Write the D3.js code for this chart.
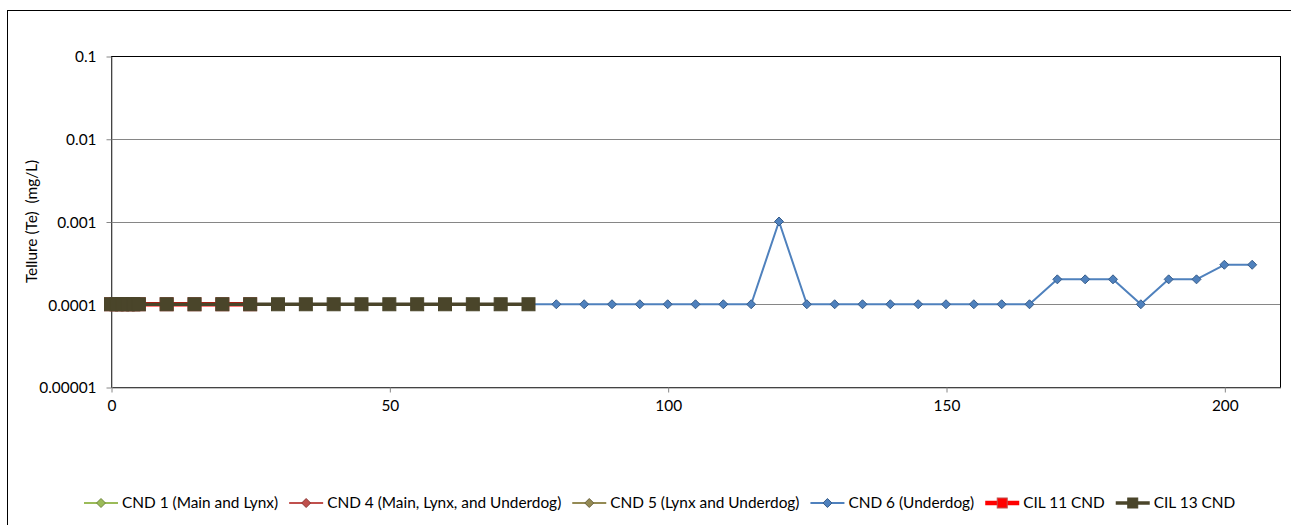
<!DOCTYPE html>
<html><head><meta charset="utf-8">
<script src="https://cdn.jsdelivr.net/npm/d3@7"></script>
<style>body{margin:0;background:#fff}svg{display:block;font-family:Lato,"Open Sans",sans-serif}</style>
</head><body><svg id="c" width="1291" height="525"></svg>
<script>
// ---- data ----
const seriesNames = ["CND 1 (Main and Lynx)", "CND 4 (Main, Lynx, and Underdog)", "CND 5 (Lynx and Underdog)", "CND 6 (Underdog)", "CIL 11 CND", "CIL 13 CND"];
const cnd1X = [0, 1, 2, 3, 4, 5];
const cnd1Y = [0.0001, 0.0001, 0.0001, 0.0001, 0.0001, 0.0001];
const cnd4X = [0, 5, 10, 15, 20, 25];
const cnd4Y = [0.0001, 0.0001, 0.0001, 0.0001, 0.0001, 0.0001];
const cnd5X = [0, 5, 10, 15, 20, 25];
const cnd5Y = [0.0001, 0.0001, 0.0001, 0.0001, 0.0001, 0.0001];
const cnd6X = [0, 5, 10, 15, 20, 25, 30, 35, 40, 45, 50, 55, 60, 65, 70, 75, 80, 85, 90, 95, 100, 105, 110, 115, 120, 125, 130, 135, 140, 145, 150, 155, 160, 165, 170, 175, 180, 185, 190, 195, 200, 205];
const cnd6Y = [0.0001, 0.0001, 0.0001, 0.0001, 0.0001, 0.0001, 0.0001, 0.0001, 0.0001, 0.0001, 0.0001, 0.0001, 0.0001, 0.0001, 0.0001, 0.0001, 0.0001, 0.0001, 0.0001, 0.0001, 0.0001, 0.0001, 0.0001, 0.0001, 0.001, 0.0001, 0.0001, 0.0001, 0.0001, 0.0001, 0.0001, 0.0001, 0.0001, 0.0001, 0.0002, 0.0002, 0.0002, 0.0001, 0.0002, 0.0002, 0.0003, 0.0003];
const cil11X = [0, 1, 2, 3, 4, 5, 10, 15, 20, 25];
const cil11Y = [0.0001, 0.0001, 0.0001, 0.0001, 0.0001, 0.0001, 0.0001, 0.0001, 0.0001, 0.0001];
const cil13X = [0, 1, 2, 3, 4, 5, 10, 15, 20, 25, 30, 35, 40, 45, 50, 55, 60, 65, 70, 75];
const cil13Y = [0.0001, 0.0001, 0.0001, 0.0001, 0.0001, 0.0001, 0.0001, 0.0001, 0.0001, 0.0001, 0.0001, 0.0001, 0.0001, 0.0001, 0.0001, 0.0001, 0.0001, 0.0001, 0.0001, 0.0001];
const yTicks = [0.00001, 0.0001, 0.001, 0.01, 0.1];
const yTickLabels = ["0.00001", "0.0001", "0.001", "0.01", "0.1"];
const xTicks = [0, 50, 100, 150, 200];
const yLabel = "Tellure (Te)  (mg/L)";

// ---- styles ----
const FS = 15.4;
const styles = [
  {line:"#9BBB59", lw:2, shape:"diamond", size:8, fill:"#9BBB59", stroke:"#71893F"},
  {line:"#C0504D", lw:2, shape:"diamond", size:8, fill:"#C0504D", stroke:"#8C3836"},
  {line:"#948A54", lw:2, shape:"diamond", size:8, fill:"#948A54", stroke:"#6B6440"},
  {line:"#4F81BD", lw:2, shape:"diamond", size:8, fill:"#4F81BD", stroke:"#385D8A"},
  {line:"#FF0000", lw:4.5, shape:"square", size:13, fill:"#FF0000", stroke:"#C0504D"},
  {line:"#4A452A", lw:3.5, shape:"square", size:13, fill:"#4A452A", stroke:"#4A452A"}
];
const seriesX = [cnd1X, cnd4X, cnd5X, cnd6X, cil11X, cil13X];
const seriesY = [cnd1Y, cnd4Y, cnd5Y, cnd6Y, cil11Y, cil13Y];

const svg = d3.select("#c");
svg.append("rect").attr("x",7.5).attr("y",10.5).attr("width",1300).attr("height",530)
  .attr("fill","#fff").attr("stroke","#000").attr("stroke-width",1);

const L=111, R=1280, T=56, B=387;
const x = d3.scaleLinear().domain([0,210]).range([L,R]);
const y = d3.scaleLog().domain([0.00001,0.1]).range([B,T]);

// gridlines
svg.append("g").selectAll("line").data(yTicks.slice(1)).join("line")
  .attr("x1",L).attr("x2",R).attr("y1",d=>Math.round(y(d))+0.5).attr("y2",d=>Math.round(y(d))+0.5)
  .attr("stroke","#868686").attr("stroke-width",1);
// plot border
svg.append("rect").attr("x",L+0.5).attr("y",T+0.5).attr("width",R-L).attr("height",B-T)
  .attr("fill","none").attr("stroke","#000").attr("stroke-width",1);

// axes
const yAxis = d3.axisLeft(y).tickValues(yTicks).tickFormat((d,i)=>yTickLabels[i]).tickSize(5).tickSizeOuter(0).tickPadding(10);
const gy = svg.append("g").attr("transform",`translate(${L+0.5},0.5)`).call(yAxis);
const xAxis = d3.axisBottom(x).tickValues(xTicks).tickFormat(d3.format("d")).tickSize(5).tickSizeOuter(0).tickPadding(8);
const gx = svg.append("g").attr("transform",`translate(0.5,${B+0.5})`).call(xAxis);
[gx,gy].forEach(g=>{
  g.select(".domain").attr("stroke","#868686");
  g.selectAll(".tick line").attr("stroke","#868686");
  g.selectAll("text").attr("font-family","Lato, 'Open Sans', sans-serif").attr("font-size",FS).attr("fill","#000");
});
gy.selectAll("text").attr("dy","0.35em");

// y label
svg.append("text").attr("transform",`translate(37,${(T+B)/2}) rotate(-90)`)
  .attr("text-anchor","middle").attr("font-size",FS).attr("fill","#000")
  .style("white-space","pre").text(yLabel);

// symbols
function marker(g, s, cx, cy){
  if(s.shape==="diamond"){
    const h=s.size/2+0.5;
    g.append("path").attr("d",`M${cx},${cy-h}L${cx+h},${cy}L${cx},${cy+h}L${cx-h},${cy}Z`)
      .attr("fill",s.fill).attr("stroke",s.stroke).attr("stroke-width",1);
  } else {
    const h=s.size/2;
    g.append("rect").attr("x",cx-h).attr("y",cy-h).attr("width",s.size).attr("height",s.size)
      .attr("fill",s.fill).attr("stroke",s.stroke).attr("stroke-width",1);
  }
}

const line = d3.line().x(d=>x(d[0])).y(d=>y(d[1]));
seriesNames.forEach((n,i)=>{
  const s = styles[i];
  const pts = seriesX[i].map((v,j)=>[v, seriesY[i][j]]);
  const g = svg.append("g");
  g.append("path").datum(pts).attr("d",line).attr("fill","none").attr("stroke",s.line).attr("stroke-width",s.lw).attr("stroke-linejoin","round");
  pts.forEach(p=>marker(g,s,x(p[0]),y(p[1])));
});

// legend
const lg = svg.append("g");
let lx = 84; const ly = 503;
seriesNames.forEach((n,i)=>{
  const s = styles[i];
  const g = lg.append("g");
  g.append("line").attr("x1",lx).attr("x2",lx+34).attr("y1",ly).attr("y2",ly).attr("stroke",s.line).attr("stroke-width",s.lw);
  marker(g, Object.assign({},s,{size: s.shape==="square"?10:8}), lx+17, ly);
  const t = g.append("text").attr("x",lx+38).attr("y",ly).attr("dy","0.35em").attr("font-size",FS).attr("fill","#000").text(n);
  lx += 38 + t.node().getComputedTextLength() + 11;
});
</script></body></html>
